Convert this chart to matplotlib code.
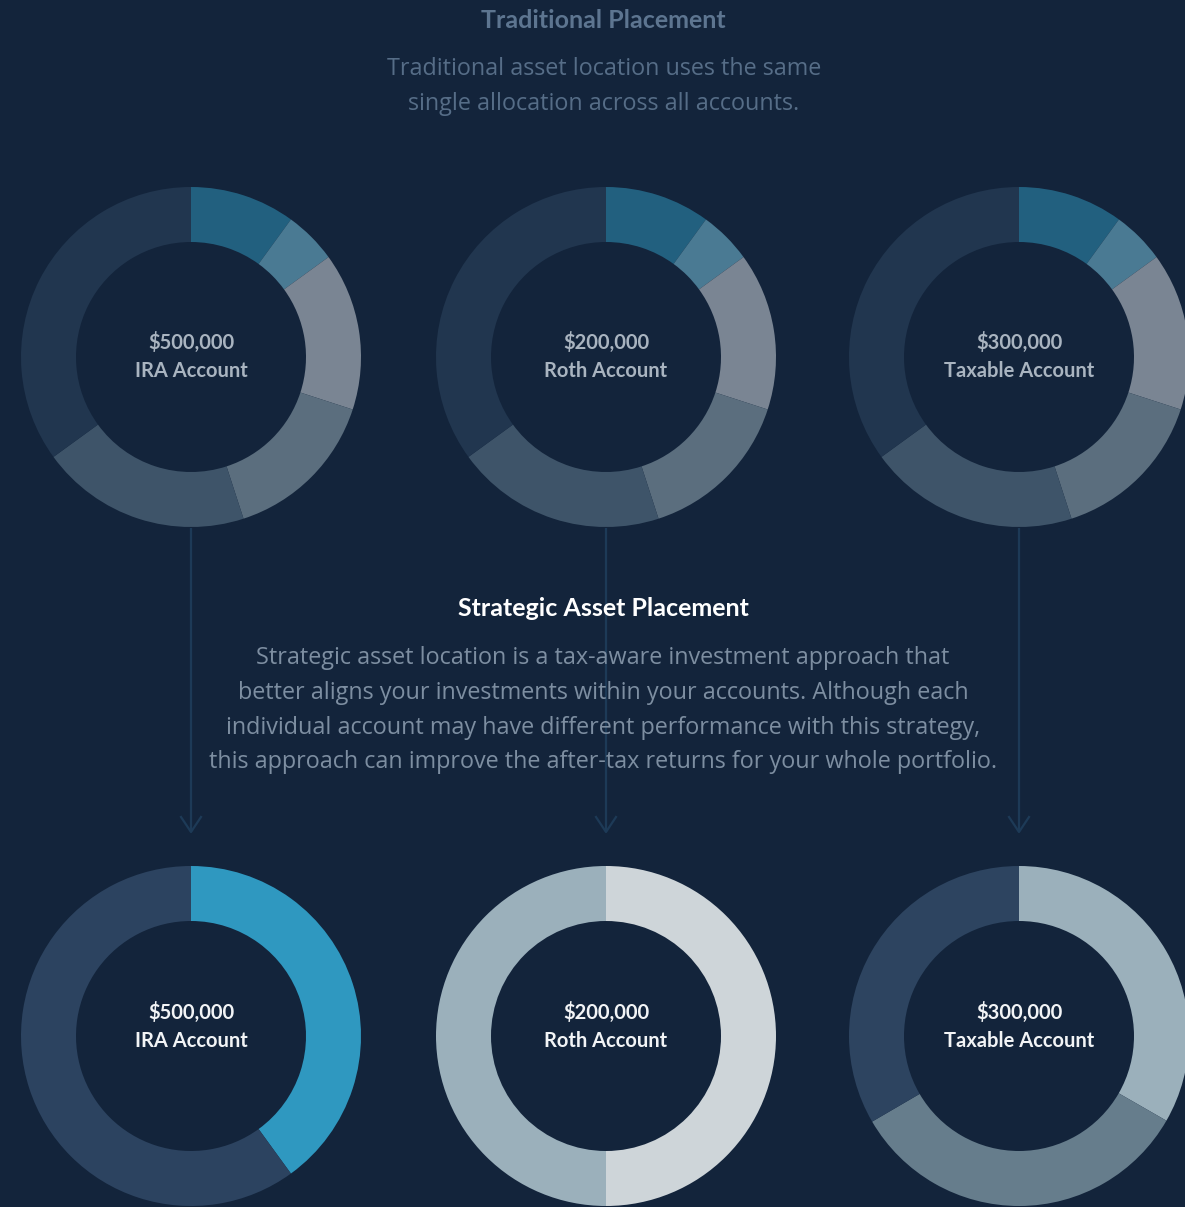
import matplotlib.pyplot as plt

W, H = 1185, 1207
BG = "#13243b"

# --- data ---
accounts = ["IRA Account", "Roth Account", "Taxable Account"]
balances = ["$500,000", "$200,000", "$300,000"]

traditional_alloc = [10, 5, 15, 15, 20, 35]
traditional_colors = ["#22607f", "#4a7a93", "#7a8593", "#5b6e7e", "#3e5469", "#21364f"]

strategic_ira = [40, 60]
strategic_roth = [50, 50]
strategic_taxable = [33.3, 33.3, 33.4]
strategic_colors = [
    ["#2f98c0", "#2c4360"],
    ["#ced5d9", "#9bb0bb"],
    ["#9bb0bb", "#667d8c", "#2d4460"],
]

title_top = "Traditional Placement"
text_top = ["Traditional asset location uses the same",
            "single allocation across all accounts."]
title_mid = "Strategic Asset Placement"
text_mid = ["Strategic asset location is a tax-aware investment approach that",
            "better aligns your investments within your accounts. Although each",
            "individual account may have different performance with this strategy,",
            "this approach can improve the after-tax returns for your whole portfolio."]

FONT = ["Lato", "DejaVu Sans"]
BODY = ["Open Sans", "DejaVu Sans"]
xs = [191, 606, 1019]
y_top, y_bot = 357, 1036
R, WIDTH = 170, 55


def Y(y):
    return H - y


fig = plt.figure(figsize=(W / 100, H / 100), dpi=100, facecolor=BG)
ax = fig.add_axes([0, 0, 1, 1])
ax.set_facecolor(BG)

# connector arrows
for x in xs:
    ax.plot([x, x], [Y(528), Y(832)], color="#1d3a57", lw=1.6, zorder=1,
            solid_capstyle="butt")
    ax.plot([x - 10, x, x + 10], [Y(817), Y(832), Y(817)], color="#1d3a57",
            lw=1.6, zorder=1)

# donuts
strategic = [strategic_ira, strategic_roth, strategic_taxable]
for i, x in enumerate(xs):
    ax.pie(traditional_alloc, colors=traditional_colors, radius=R,
           center=(x, Y(y_top)), startangle=90, counterclock=False,
           wedgeprops=dict(width=WIDTH, linewidth=0))
    ax.pie(strategic[i], colors=strategic_colors[i], radius=R,
           center=(x, Y(y_bot)), startangle=90, counterclock=False,
           wedgeprops=dict(width=WIDTH, linewidth=0))
    ax.text(x, Y(349), balances[i], ha="center", va="baseline", fontsize=14.5,
            fontweight="bold", color="#a9b4c0", family=FONT)
    ax.text(x, Y(377), accounts[i], ha="center", va="baseline", fontsize=14.5,
            fontweight="bold", color="#a9b4c0", family=FONT)
    ax.text(x, Y(1019), balances[i], ha="center", va="baseline", fontsize=14.5,
            fontweight="bold", color="#f2f4f6", family=FONT)
    ax.text(x, Y(1047), accounts[i], ha="center", va="baseline", fontsize=14.5,
            fontweight="bold", color="#f2f4f6", family=FONT)

# headings and paragraphs
ax.text(603, Y(28), title_top, ha="center", va="baseline", fontsize=18,
        fontweight="bold", color="#5d7590", family=FONT)
for k, line in enumerate(text_top):
    ax.text(604, Y(75 + 35 * k), line, ha="center", va="baseline", fontsize=16.8,
            fontweight="normal", color="#566d87", family=BODY)

ax.text(603, Y(616), title_mid, ha="center", va="baseline", fontsize=18,
        fontweight="bold", color="#ffffff", family=FONT, zorder=3)
for k, line in enumerate(text_mid):
    ax.text(603, Y(664 + 34.8 * k), line, ha="center", va="baseline",
            fontsize=16.8, fontweight="normal", color="#7d8ea1", family=BODY,
            zorder=3)

ax.set_xlim(0, W)
ax.set_ylim(0, H)
ax.set_aspect("equal")
ax.axis("off")

fig.savefig("out.png", dpi=100, facecolor=BG)
